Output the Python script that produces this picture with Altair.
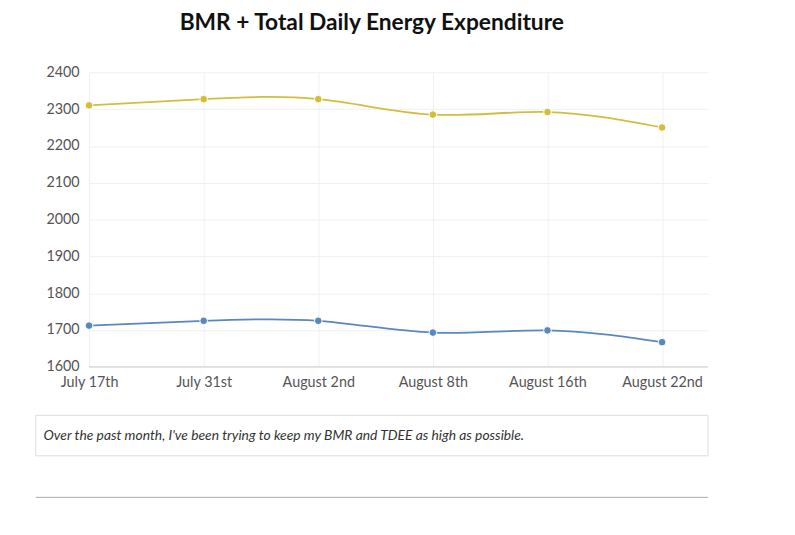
import altair as alt
import pandas as pd

dates = ["July 17th", "July 31st", "August 2nd", "August 8th", "August 16th", "August 22nd"]
tdee = [2310, 2327, 2327, 2285, 2292, 2250]
bmr = [1712, 1725, 1725, 1693, 1699, 1667]

rows = []
for i, d in enumerate(dates):
    rows.append({"i": i, "date": d, "series": "TDEE", "v": tdee[i]})
    rows.append({"i": i, "date": d, "series": "BMR", "v": bmr[i]})
df = pd.DataFrame(rows)

W, H = 626, 298
labels = "[" + ",".join("'%s'" % d for d in dates) + "][datum.value]"
x = alt.X("i:Q", scale=alt.Scale(domain=[0, 5.4], nice=False),
          axis=alt.Axis(values=list(range(6)), labelExpr=labels, title=None,
                        grid=True, gridColor="#f0f0f0", ticks=False, domain=False,
                        labelFontSize=14.5, labelColor="#555", labelPadding=9,
                        labelFont="Lato", labelFlush=False))
y = alt.Y("v:Q", scale=alt.Scale(domain=[1600, 2400], nice=False),
          axis=alt.Axis(values=list(range(1600, 2401, 100)), title=None, format="d",
                        gridColor="#f0f0f0", ticks=False, domain=False,
                        labelFontSize=14.5, labelColor="#555", labelPadding=10,
                        labelFont="Lato"))
color = alt.Color("series:N", scale=alt.Scale(domain=["TDEE", "BMR"], range=["#d4bd3c", "#5b87bf"]), legend=None)

line = alt.Chart(df).mark_line(interpolate="natural", strokeWidth=1.8).encode(x=x, y=y, color=color, detail="series:N")
pts = alt.Chart(df).mark_point(filled=True, size=60, opacity=1, stroke="white", strokeWidth=1).encode(x=x, y=y, color=color)

base = alt.Chart(pd.DataFrame({"a": [0]}))
bottom = base.mark_rule(color="#ccc").encode(x=alt.value(0), x2=alt.value(W), y=alt.value(H))
box = base.mark_rect(fill="white", stroke="#ddd").encode(x=alt.value(-54), x2=alt.value(W), y=alt.value(347), y2=alt.value(388))
cap = base.mark_text(align="left", baseline="middle", fontStyle="italic", fontSize=14, color="#333", font="Lato").encode(
    x=alt.value(-46), y=alt.value(368),
    text=alt.value("Over the past month, I've been trying to keep my BMR and TDEE as high as possible."))
sep = base.mark_rule(color="#aaa").encode(x=alt.value(-54), x2=alt.value(W), y=alt.value(430))

chart = alt.layer(bottom, line, pts, box, cap, sep).properties(
    width=W, height=H,
    title=alt.TitleParams("BMR + Total Daily Energy Expenditure", fontSize=23, font="Lato",
                          fontWeight="bold", color="#111", offset=30, dx=-27),
    autosize="none",
    padding={"left": 82, "top": 62, "right": 80, "bottom": 160},
).configure_view(stroke=None)

chart.save("out.html", embed_options={"renderer": "svg", "actions": False})
